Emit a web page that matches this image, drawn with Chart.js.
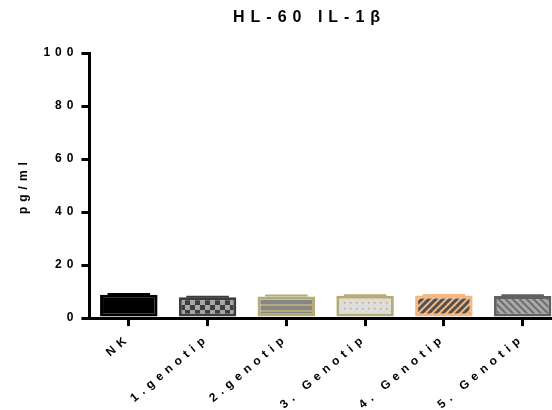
<!DOCTYPE html>
<html>
<head>
<meta charset="utf-8">
<script src="https://cdn.jsdelivr.net/npm/chart.js@4/dist/chart.umd.min.js"></script>
<style>
  html, body { margin: 0; padding: 0; background: #fff; overflow: hidden; width: 552px; height: 410px; }
  #wrap { width: 566px; height: 430px; position: relative; }
</style>
</head>
<body>
<div id="wrap"><canvas id="il1Chart"></canvas></div>
<script>
// data
const categories = ["NK", "1.genotip", "2.genotip", "3. Genotip", "4. Genotip", "5. Genotip"];
const means = [8.8, 7.9, 8.2, 8.4, 8.5, 8.3];
const errors = [0.3, 0.2, 0.3, 0.2, 0.2, 0.3];
const yTicks = [0, 20, 40, 60, 80, 100];

const FONT = "'Liberation Sans', Arial, sans-serif";
const SPACING = "5px";

//fill patterns like prism uses
function makePattern(kind) {
  const c = document.createElement("canvas");
  const p = c.getContext("2d");
  if (kind === "solid") {
    c.width = c.height = 4;
    p.fillStyle = "#000";
    p.fillRect(0, 0, 4, 4);
  } else if (kind === "checker") {
    c.width = c.height = 10;
    p.fillStyle = "#3d3d3d";
    p.fillRect(0, 0, 10, 10);
    p.fillStyle = "#a6a6a6";
    p.fillRect(0, 0, 5, 5);
    p.fillRect(5, 5, 5, 5);
  } else if (kind === "hstripe") {
    c.width = c.height = 6;
    p.fillStyle = "#b5ab78";
    p.fillRect(0, 0, 6, 6);
    p.fillStyle = "#868686";
    p.fillRect(0, 0, 6, 4);
  } else if (kind === "dots") {
    c.width = c.height = 6;
    p.fillStyle = "#dcdcdc";
    p.fillRect(0, 0, 6, 6);
    p.fillStyle = "#b5ab78";
    p.fillRect(2, 2, 1.5, 1.5);
  } else if (kind === "fdiag" || kind === "bdiag") {
    const s = 7;
    c.width = c.height = s;
    p.fillStyle = kind === "fdiag" ? "#f4b77f" : "#6e6e6e";
    p.fillRect(0, 0, s, s);
    p.strokeStyle = kind === "fdiag" ? "#505050" : "#a9a9a9";
    p.lineWidth = 3;
    p.beginPath();
    if (kind === "fdiag") {
      p.moveTo(0, s); p.lineTo(s, 0);
      p.moveTo(-1, 1); p.lineTo(1, -1);
      p.moveTo(s - 1, s + 1); p.lineTo(s + 1, s - 1);
    } else {
      p.moveTo(0, 0); p.lineTo(s, s);
      p.moveTo(-1, s - 1); p.lineTo(1, s + 1);
      p.moveTo(s - 1, -1); p.lineTo(s + 1, 1);
    }
    p.stroke();
  }
  return p.createPattern(c, "repeat");
}

const fills = ["solid", "checker", "hstripe", "dots", "fdiag", "bdiag"].map(makePattern);
const borders = ["#000000", "#3d3d3d", "#b5ab78", "#b5ab78", "#f4b77f", "#616161"];

//wide letter spacing on all text
const spacingPlugin = {
  id: "spacing",
  beforeLayout(chart) { chart.ctx.letterSpacing = SPACING; },
  beforeDraw(chart) { chart.ctx.letterSpacing = SPACING; }
};

//error bar caps on top of bars
const errorBars = {
  id: "errorBars",
  afterDatasetsDraw(chart) {
    const ctx = chart.ctx;
    const y = chart.scales.y;
    const meta = chart.getDatasetMeta(0);
    ctx.save();
    meta.data.forEach((bar, i) => {
      const top = y.getPixelForValue(means[i] + errors[i]);
      const half = bar.width * 0.37;
      ctx.strokeStyle = borders[i];
      ctx.lineWidth = 2;
      ctx.beginPath();
      ctx.moveTo(bar.x, bar.y);
      ctx.lineTo(bar.x, top);
      ctx.moveTo(bar.x - half, top);
      ctx.lineTo(bar.x + half, top);
      ctx.stroke();
    });
    ctx.restore();
  }
};

//title drawn by hand so it sits where prism put it
const titlePlugin = {
  id: "myTitle",
  afterDraw(chart) {
    const ctx = chart.ctx;
    ctx.save();
    ctx.letterSpacing = "6px";
    ctx.font = "bold 16px " + FONT;
    ctx.fillStyle = "#000";
    ctx.textAlign = "left";
    ctx.textBaseline = "alphabetic";
    ctx.fillText("HL-60 IL-1\u03b2", 233, 22);
    ctx.restore();
  }
};

const tickFont = { family: FONT, size: 12, weight: "bold" };

new Chart(document.getElementById("il1Chart"), {
  type: "bar",
  data: {
    labels: categories,
    datasets: [{
      data: means,
      backgroundColor: fills,
      borderColor: borders,
      borderWidth: 3,
      borderSkipped: false,
      categoryPercentage: 1,
      barPercentage: 0.73
    }]
  },
  options: {
    responsive: true,
    maintainAspectRatio: false,
    animation: false,
    layout: { padding: { top: 53, left: 16, right: 4, bottom: 13 } },
    plugins: {
      legend: { display: false },
      tooltip: { enabled: false },
      title: { display: false }
    },
    scales: {
      x: {
        offset: true,
        grid: { display: true, drawOnChartArea: false, offset: false, tickLength: 8, lineWidth: 3, color: "#000" },
        border: { color: "#000", width: 3 },
        ticks: { color: "#000", font: tickFont, minRotation: 40, maxRotation: 40, padding: 5, autoSkip: false }
      },
      y: {
        min: 0,
        max: 100,
        afterBuildTicks: (scale) => { scale.ticks = yTicks.map(v => ({ value: v })); },
        grid: { display: true, drawOnChartArea: false, tickLength: 8, lineWidth: 3, color: "#000" },
        border: { color: "#000", width: 3 },
        ticks: { color: "#000", font: tickFont, padding: 3 },
        title: { display: true, text: "pg/ml", color: "#000", font: tickFont, padding: { top: 0, bottom: 10 } }
      }
    }
  },
  plugins: [spacingPlugin, errorBars, titlePlugin]
});
</script>
</body>
</html>
